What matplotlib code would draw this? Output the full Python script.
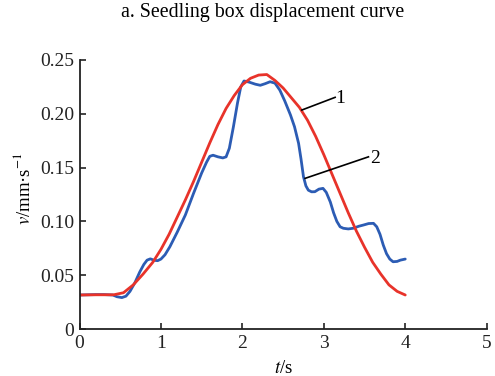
import matplotlib
matplotlib.use("Agg")
import matplotlib.pyplot as plt

# Curve 1 (red, theoretical)
t_red = [0.0, 0.2, 0.42, 0.54, 0.66, 0.78, 0.9, 1.0, 1.1, 1.2, 1.3, 1.4, 1.5, 1.6, 1.7, 1.8,
         1.9, 2.0, 2.1, 2.2, 2.3, 2.4, 2.5, 2.6, 2.7, 2.8, 2.9, 3.0, 3.1, 3.2, 3.3, 3.4, 3.5,
         3.6, 3.7, 3.8, 3.9, 4.0]
v_red = [0.0316, 0.0318, 0.0318, 0.0337, 0.041, 0.051, 0.062, 0.074, 0.088, 0.104, 0.120,
         0.137, 0.155, 0.173, 0.190, 0.205, 0.217, 0.227, 0.233, 0.236, 0.2365, 0.231, 0.224,
         0.215, 0.206, 0.194, 0.179, 0.162, 0.144, 0.126, 0.108, 0.091, 0.076, 0.062, 0.051,
         0.041, 0.035, 0.0316]

# Curve 2 (blue, measured)
t_blue = [0.0, 0.2, 0.3, 0.41, 0.46, 0.52, 0.57, 0.62, 0.68, 0.74, 0.79, 0.83, 0.87, 0.92,
          0.96, 1.0, 1.05, 1.11, 1.2, 1.3, 1.34, 1.4, 1.5, 1.56, 1.60, 1.64, 1.70, 1.76, 1.80,
          1.84, 1.89, 1.94, 1.98, 2.02, 2.08, 2.16, 2.22, 2.28, 2.34, 2.40, 2.46, 2.52, 2.59,
          2.64, 2.69, 2.72, 2.75, 2.78, 2.81, 2.85, 2.89, 2.94, 2.99, 3.03, 3.08, 3.12, 3.16,
          3.2, 3.24, 3.30, 3.36, 3.43, 3.49, 3.55, 3.61, 3.65, 3.69, 3.73, 3.77, 3.81, 3.85,
          3.9, 3.94, 4.0]
v_blue = [0.0316, 0.032, 0.032, 0.0316, 0.030, 0.0292, 0.0305, 0.035, 0.043, 0.053, 0.060,
          0.064, 0.0652, 0.0638, 0.0635, 0.065, 0.069, 0.0765, 0.090, 0.106, 0.114, 0.126,
          0.145, 0.155, 0.1605, 0.1615, 0.160, 0.159, 0.160, 0.168, 0.188, 0.210, 0.225,
          0.2305, 0.2295, 0.2275, 0.2265, 0.228, 0.2298, 0.2285, 0.222, 0.212, 0.199, 0.188,
          0.1726, 0.158, 0.1416, 0.133, 0.129, 0.1275, 0.1276, 0.130, 0.1307, 0.127, 0.118,
          0.108, 0.100, 0.095, 0.0936, 0.093, 0.0936, 0.0955, 0.0967, 0.098, 0.0982, 0.095,
          0.088, 0.078, 0.070, 0.065, 0.0625, 0.0628, 0.064, 0.065]

x_ticks = [0, 1, 2, 3, 4, 5]
y_ticks = [0, 0.05, 0.10, 0.15, 0.20, 0.25]
y_ticklabels = ["0", "0.05", "0.10", "0.15", "0.20", "0.25"]

plt.rcParams['font.family'] = ['Liberation Serif', 'DejaVu Serif']
plt.rcParams['mathtext.fontset'] = 'stix'

fig = plt.figure(figsize=(4.95, 3.76), dpi=100)
ax = fig.add_axes([79.5 / 495, 1 - 329 / 376, (486.7 - 79.5) / 495, (329 - 60) / 376])

ax.plot(t_blue, v_blue, color='#2c5cb4', lw=2.0, solid_capstyle='round', solid_joinstyle='round')
ax.plot(t_red, v_red, color='#e8332a', lw=2.0, solid_capstyle='round', solid_joinstyle='round')

ax.set_xlim(0, 5)
ax.set_ylim(0, 0.25)
ax.set_xticks(x_ticks)
ax.set_xticklabels([str(x) for x in x_ticks])
ax.set_yticks(y_ticks)
ax.set_yticklabels(y_ticklabels)
for s in ['top', 'right']:
    ax.spines[s].set_visible(False)
for s in ['left', 'bottom']:
    ax.spines[s].set_linewidth(1.3)
    ax.spines[s].set_color('#222222')
ax.tick_params(direction='in', length=4, width=1.2, labelsize=14, colors='#222222', pad=4)

ax.set_xlabel(r'$t$/s', fontsize=13.5, labelpad=6)
ax.set_ylabel(r'$v$/mm·s$^{-1}$', fontsize=13.5)
ax.yaxis.set_label_coords(-0.112, 0.52)

# leader lines & labels
ax.plot([2.73, 3.139], [0.2035, 0.2153], color='black', lw=1.2)
ax.text(3.2, 0.2144, '1', fontsize=14, ha='center', va='center')
ax.plot([2.77, 3.548], [0.140, 0.160], color='black', lw=1.2)
ax.text(3.63, 0.1586, '2', fontsize=14, ha='center', va='center')

fig.text(263 / 495, 1 - 13 / 376, 'a. Seedling box displacement curve', fontsize=14.3,
         ha='center', va='center')

fig.savefig('out.png', dpi=100)
